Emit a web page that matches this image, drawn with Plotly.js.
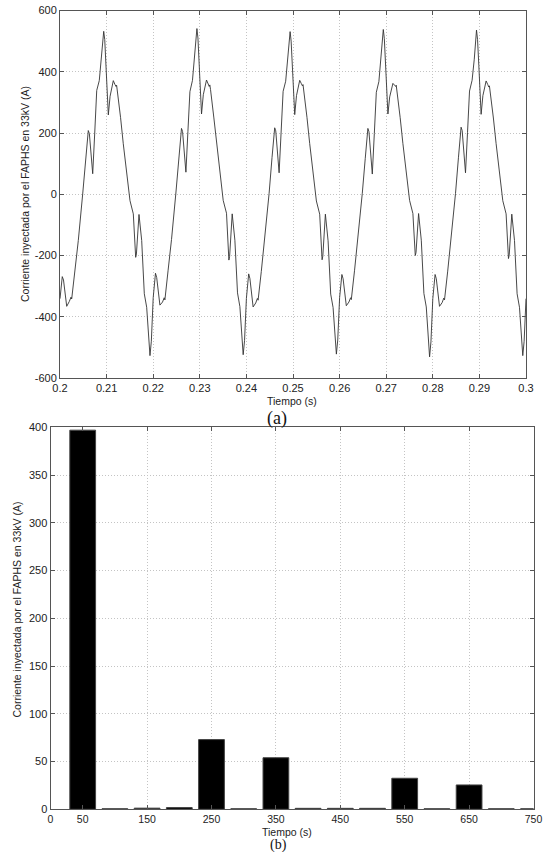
<!DOCTYPE html>
<html>
<head>
<meta charset="utf-8">
<script src="https://cdn.plot.ly/plotly-3.0.1.min.js"></script>
<style>
html,body{margin:0;padding:0;background:#fff;}
#chart{width:545px;height:852px;}
</style>
</head>
<body>
<div id="chart"></div>
<script>
// ---- (a) waveform: time (s) and current (A) ----
var time = [
0.20000,0.20049,0.20075,0.20144,0.20200,0.20236,0.20251,0.20320,0.20393,0.20487,0.20550,0.20607,0.20630,0.20702,0.20745,0.20788,0.20843,0.20890,0.20938,0.20960,0.20988,0.21017,0.21037,0.21075,0.21144,0.21180,0.21202,0.21215,0.21230,0.21300,0.21358,0.21430,0.21502,0.21573,0.21624,0.21640,0.21695,0.21753,0.21809,0.21860,0.21900,0.21931,0.21960,0.21990,
0.22000,0.22049,0.22075,0.22144,0.22200,0.22236,0.22251,0.22320,0.22393,0.22487,0.22550,0.22607,0.22630,0.22702,0.22745,0.22788,0.22843,0.22890,0.22938,0.22960,0.22988,0.23017,0.23037,0.23075,0.23144,0.23180,0.23202,0.23215,0.23230,0.23300,0.23358,0.23430,0.23502,0.23573,0.23624,0.23640,0.23695,0.23753,0.23809,0.23860,0.23900,0.23931,0.23960,0.23990,
0.24000,0.24049,0.24075,0.24144,0.24200,0.24236,0.24251,0.24320,0.24393,0.24487,0.24550,0.24607,0.24630,0.24702,0.24745,0.24788,0.24843,0.24890,0.24938,0.24960,0.24988,0.25017,0.25037,0.25075,0.25144,0.25180,0.25202,0.25215,0.25230,0.25300,0.25358,0.25430,0.25502,0.25573,0.25624,0.25640,0.25695,0.25753,0.25809,0.25860,0.25900,0.25931,0.25960,0.25990,
0.26000,0.26049,0.26075,0.26144,0.26200,0.26236,0.26251,0.26320,0.26393,0.26487,0.26550,0.26607,0.26630,0.26702,0.26745,0.26788,0.26843,0.26890,0.26938,0.26960,0.26988,0.27017,0.27037,0.27075,0.27144,0.27180,0.27202,0.27215,0.27230,0.27300,0.27358,0.27430,0.27502,0.27573,0.27624,0.27640,0.27695,0.27753,0.27809,0.27860,0.27900,0.27931,0.27960,0.27990,
0.28000,0.28049,0.28075,0.28144,0.28200,0.28236,0.28251,0.28320,0.28393,0.28487,0.28550,0.28607,0.28630,0.28702,0.28745,0.28788,0.28843,0.28890,0.28938,0.28960,0.28988,0.29017,0.29037,0.29075,0.29144,0.29180,0.29202,0.29215,0.29230,0.29300,0.29358,0.29430,0.29502,0.29573,0.29624,0.29640,0.29695,0.29753,0.29809,0.29860,0.29900,0.29931,0.29960,0.29990,
0.30000
];
var current = [
-341,-269,-280,-366,-350,-336,-342,-250,-151,1,110,208,198,67,200,339,371,440,532,505,420,300,259,320,371,358,352,356,340,250,165,70,-21,-64,-206,-195,-66,-151,-325,-369,-450,-527,-480,-402,
-338,-258,-272,-362,-352,-338,-345,-248,-148,4,118,215,205,72,205,335,372,445,541,510,425,300,262,325,373,360,352,357,342,252,168,72,-20,-62,-215,-203,-64,-150,-322,-367,-452,-524,-478,-400,
-340,-260,-275,-368,-355,-340,-346,-252,-150,2,120,217,207,70,203,336,369,438,531,500,418,298,260,322,372,361,354,358,341,251,166,71,-22,-65,-214,-202,-65,-152,-326,-370,-448,-522,-476,-401,
-338,-262,-276,-364,-352,-338,-344,-250,-149,3,116,215,204,66,198,333,368,442,538,508,422,302,262,318,362,356,352,356,340,250,166,70,-20,-63,-200,-190,-63,-150,-324,-368,-452,-531,-482,-403,
-341,-262,-276,-366,-354,-339,-345,-251,-150,2,119,219,208,70,202,337,372,441,536,506,420,300,261,322,370,358,350,354,338,249,166,70,-21,-64,-210,-198,-65,-151,-325,-369,-451,-527,-480,-404,
-341
];
var timeTicks = [0.20,0.21,0.22,0.23,0.24,0.25,0.26,0.27,0.28,0.29,0.30];
var timeTickText = ["0.2","0.21","0.22","0.23","0.24","0.25","0.26","0.27","0.28","0.29","0.3"];
var currentTicks = [-600,-400,-200,0,200,400,600];
var currentTickText = ["-600","-400","-200","0","200","400","600"];

// ---- (b) spectrum: frequency and amplitude (A) ----
var freq = [50,100,150,200,250,300,350,400,450,500,550,600,650,700,750];
var amplitude = [397,0.6,1.2,1.8,73,0.6,54,1,1,1,32.5,0.6,25.5,0.6,0.6];
var freqTicks = [0,50,150,250,350,450,550,650,750];
var freqTickText = ["0","50","150","250","350","450","550","650","750"];
var ampTicks = [0,50,100,150,200,250,300,350,400];

var W = 545, H = 852;
function px(x){return x/W;}
function py(y){return 1 - y/H;}

var sans = '"Liberation Sans", Arial, sans-serif';
var serif = '"Liberation Serif", "Times New Roman", serif';
var tickFont = {family:sans, size:11, color:'#222'};
var gridCol = '#c4c4c4';
var axisCol = '#555';

function axisStyle(extra){
  var a = {
    showline:true, linecolor:axisCol, linewidth:1, mirror:'ticks',
    ticks:'inside', ticklen:4, tickcolor:axisCol,
    showgrid:true, gridcolor:gridCol, griddash:'1px,2px', gridwidth:1,
    zeroline:false, tickfont:tickFont, fixedrange:true
  };
  for (var k in extra) a[k] = extra[k];
  return a;
}

var traces = [
  {x:time, y:current, type:'scatter', mode:'lines', line:{color:'#333', width:0.9},
   xaxis:'x', yaxis:'y', hoverinfo:'none'},
  {x:freq, y:amplitude, type:'bar', width:40,
   marker:{color:'#000', line:{color:'#444', width:1}},
   xaxis:'x2', yaxis:'y2', hoverinfo:'none'}
];

var layout = {
  width:W, height:H,
  margin:{l:0,r:0,t:0,b:0},
  paper_bgcolor:'#fff', plot_bgcolor:'#fff',
  showlegend:false,
  xaxis: axisStyle({domain:[px(60),px(526)], range:[0.2,0.3], tickmode:'array',
    tickvals:timeTicks, ticktext:timeTickText, anchor:'y'}),
  yaxis: axisStyle({domain:[py(378),py(10.5)], range:[-600,600], tickmode:'array',
    tickvals:currentTicks, ticktext:currentTickText, anchor:'x'}),
  xaxis2: axisStyle({domain:[px(50.5),px(533.5)], range:[0,750], tickmode:'array',
    tickvals:freqTicks, ticktext:freqTickText, anchor:'y2',
    tickfont:{family:sans, size:10.5, color:'#222'}, ticklabelstandoff:0}),
  yaxis2: axisStyle({domain:[py(809.3),py(427.3)], range:[0,400], tickmode:'array',
    tickvals:ampTicks, anchor:'x2'}),
  annotations:[
    {text:'Tiempo (s)', x:px(292), y:py(400.5), xref:'paper', yref:'paper', showarrow:false,
     xanchor:'center', yanchor:'middle', font:{family:sans, size:10.5, color:'#222'}},
    {text:'(a)', x:px(277), y:py(418), xref:'paper', yref:'paper', showarrow:false,
     xanchor:'center', yanchor:'middle', font:{family:serif, size:18, color:'#111'}},
    {text:'Corriente inyectada por el FAPHS en 33kV (A)', x:px(25), y:py(194), xref:'paper', yref:'paper',
     showarrow:false, textangle:-90, xanchor:'center', yanchor:'middle',
     font:{family:sans, size:10.5, color:'#222'}},
    {text:'Tiempo (s)', x:px(287), y:py(831.5), xref:'paper', yref:'paper', showarrow:false,
     xanchor:'center', yanchor:'middle', font:{family:sans, size:10.5, color:'#222'}},
    {text:'(b)', x:px(278), y:py(845), xref:'paper', yref:'paper', showarrow:false,
     xanchor:'center', yanchor:'middle', font:{family:serif, size:14, color:'#111'}},
    {text:'Corriente inyectada por el FAPHS en 33kV (A)', x:px(16.5), y:py(610), xref:'paper', yref:'paper',
     showarrow:false, textangle:-90, xanchor:'center', yanchor:'middle',
     font:{family:sans, size:10.5, color:'#222'}}
  ]
};

Plotly.newPlot('chart', traces, layout, {staticPlot:true, displayModeBar:false});
</script>
</body>
</html>
